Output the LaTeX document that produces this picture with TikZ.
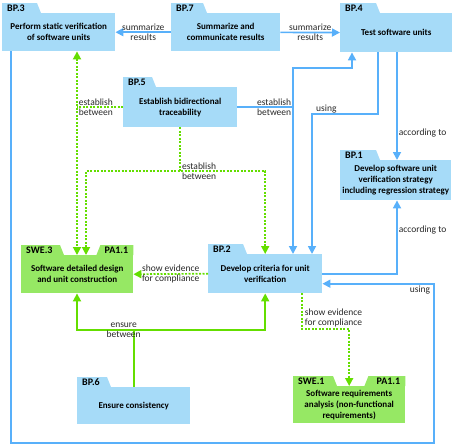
\documentclass[tikz,border=0pt]{standalone}
\usepackage{fontspec}
\setmainfont{Carlito}
\usetikzlibrary{arrows.meta,calc}

\definecolor{bpfill}{RGB}{166,219,248}
\definecolor{swefill}{RGB}{150,232,100}
\definecolor{bpline}{RGB}{88,176,250}
\definecolor{sweline}{RGB}{100,222,0}
\definecolor{lblcol}{RGB}{40,40,40}

\tikzset{
 box/.style={rectangle, inner sep=0pt, anchor=north west, align=center,
   font=\bfseries\fontsize{9}{11}\selectfont},
 bp/.style={box, fill=bpfill},
 swe/.style={box, fill=swefill},
 tabtext/.style={inner sep=0pt, font=\bfseries\fontsize{10}{11}\selectfont},
 lbl/.style={inner sep=1pt, align=center, text=lblcol, font=\fontsize{9.5}{10.5}\selectfont},
 bline/.style={draw=bpline, line width=1.7pt},
 gline/.style={draw=sweline, line width=1.7pt},
 gdot/.style={draw=sweline, line width=1.7pt, dash pattern=on 2pt off 1.5pt}
}

% folder tab on the left / right of a box
\newcommand{\tabL}[4]{%
  \fill[#4] (#1.north west) -- ++(0,-10) -- ++(#2,0) -- ++(4,10) -- cycle;
  \node[tabtext, anchor=west] (#1tl) at ([xshift=5pt,yshift=5pt]#1.north west) {#3};}
\newcommand{\tabR}[4]{%
  \fill[#4] (#1.north east) -- ++(0,-10) -- ++(-#2,0) -- ++(-4,10) -- cycle;
  \node[tabtext, anchor=east] (#1tr) at ([xshift=-5pt,yshift=5pt]#1.north east) {#3};}

\begin{document}
\begin{tikzpicture}[x=1pt, y=-1pt, >={Triangle[length=8pt,width=8pt]}]
\useasboundingbox (0,0) rectangle (455,445);

% practices
\node[bp, minimum width=113, minimum height=38] (bp3) at (2,13) {Perform static verification\\of software units};
\node[bp, minimum width=109, minimum height=38] (bp7) at (171,13) {Summarize and\\communicate results};
\node[bp, minimum width=112, minimum height=39] (bp4) at (340,13) {Test software units};
\node[bp, minimum width=114, minimum height=40] (bp5) at (123,87) {Establish bidirectional\\traceability};
\node[bp, minimum width=111, minimum height=40] (bp1) at (340,160) {Develop software unit\\verification strategy\\including regression strategy};
\node[swe, minimum width=112, minimum height=38] (swe3) at (21,255) {Software detailed design\\and unit construction};
\node[bp, minimum width=114, minimum height=39] (bp2) at (208,254) {Develop criteria for unit\\verification};
\node[bp, minimum width=113, minimum height=37] (bp6) at (77,387) {Ensure consistency};
\node[swe, minimum width=112, minimum height=37] (swe1) at (293,386) {Software requirements\\analysis (non-functional\\requirements)};

\tabL{bp3}{35}{BP.3}{bpfill}
\tabL{bp7}{32}{BP.7}{bpfill}
\tabL{bp4}{36}{BP.4}{bpfill}
\tabL{bp5}{29}{BP.5}{bpfill}
\tabL{bp1}{36}{BP.1}{bpfill}
\tabL{bp2}{35}{BP.2}{bpfill}
\tabL{bp6}{30}{BP.6}{bpfill}
\tabL{swe3}{39}{SWE.3}{swefill}
\tabR{swe3}{33}{PA1.1}{swefill}
\tabL{swe1}{40}{SWE.1}{swefill}
\tabR{swe1}{37}{PA1.1}{swefill}

% bends
\coordinate (g1) at ([xshift=75pt]bp3.south west);
\coordinate (g2) at (bp5.south |- 0,171);
\coordinate (b1) at (293,68);
\coordinate (b2) at (352,68);
\coordinate (u1) at (378,114);
\coordinate (u2) at (312,114);
\coordinate (ac) at (397,140);
\coordinate (o1) at (434,443);
\coordinate (c1) at (bp6.north |- 0,330);
\coordinate (s0) at ([xshift=94pt]bp2.south west);
\coordinate (s1) at (swe1.north |- 0,329);

% blue connectors
\draw[bline,->] (bp7) -- node[lbl]{summarize\\results} (bp3);
\draw[bline,->] (bp7) -- node[lbl]{summarize\\results} (bp4);
\draw[bline,<->] (bp2.north -| b1) -- (b1) -| (bp4.south -| b2);
\draw[bline] (bp5.east) -- (bp5.east -| b1) node[lbl, anchor=east]{establish\\between};
\draw[bline,->] (bp4.south -| u1) -- (u1) -- (u2) -- (bp2.north -| u2);
\node[lbl, anchor=south west] (usingA) at ([xshift=3pt]u2) {using};
\draw[bline,->] (bp4.south -| ac) -- node[lbl, anchor=west, pos=0.75]{according to} (bp1.north -| ac);
\draw[bline,->] (bp2.east) -| node[lbl, anchor=west, pos=0.8]{according to} (bp1.south -| ac);
\draw[bline,->] ([xshift=9pt]bp3.south west) |- (o1) |- node[lbl, anchor=north east, pos=0.5, xshift=-2pt]{using} ([yshift=-10pt]bp2.east);

% green connectors
\draw[gdot,<->] (g1) -- ([xshift=56pt]swe3.north west);
\draw[gdot] (bp5.west) -- (g1 |- bp5.west) node[lbl, anchor=west]{establish\\between};
\draw[gdot] (bp5.south) -- (g2) node[lbl, anchor=west]{establish\\between};
\draw[gdot,<->] ([xshift=65pt]swe3.north west) |- (g2) -| (bp2.north);
\draw[gdot,->] (bp2.west) -- node[lbl]{show evidence\\for compliance} (swe3.east);
\draw[gline] (bp6.north) -- (c1);
\draw[gline,<->] ([xshift=56pt]swe3.south west) |- (c1) -| (bp2.south);
\node[lbl] (ensureL) at ([xshift=-10pt]c1) {ensure\\between};
\draw[gdot,->] (s0) |- node[lbl, anchor=south west, pos=0.5, xshift=1pt]{show evidence\\for compliance} (s1) -- (swe1.north);
\end{tikzpicture}
\end{document}
